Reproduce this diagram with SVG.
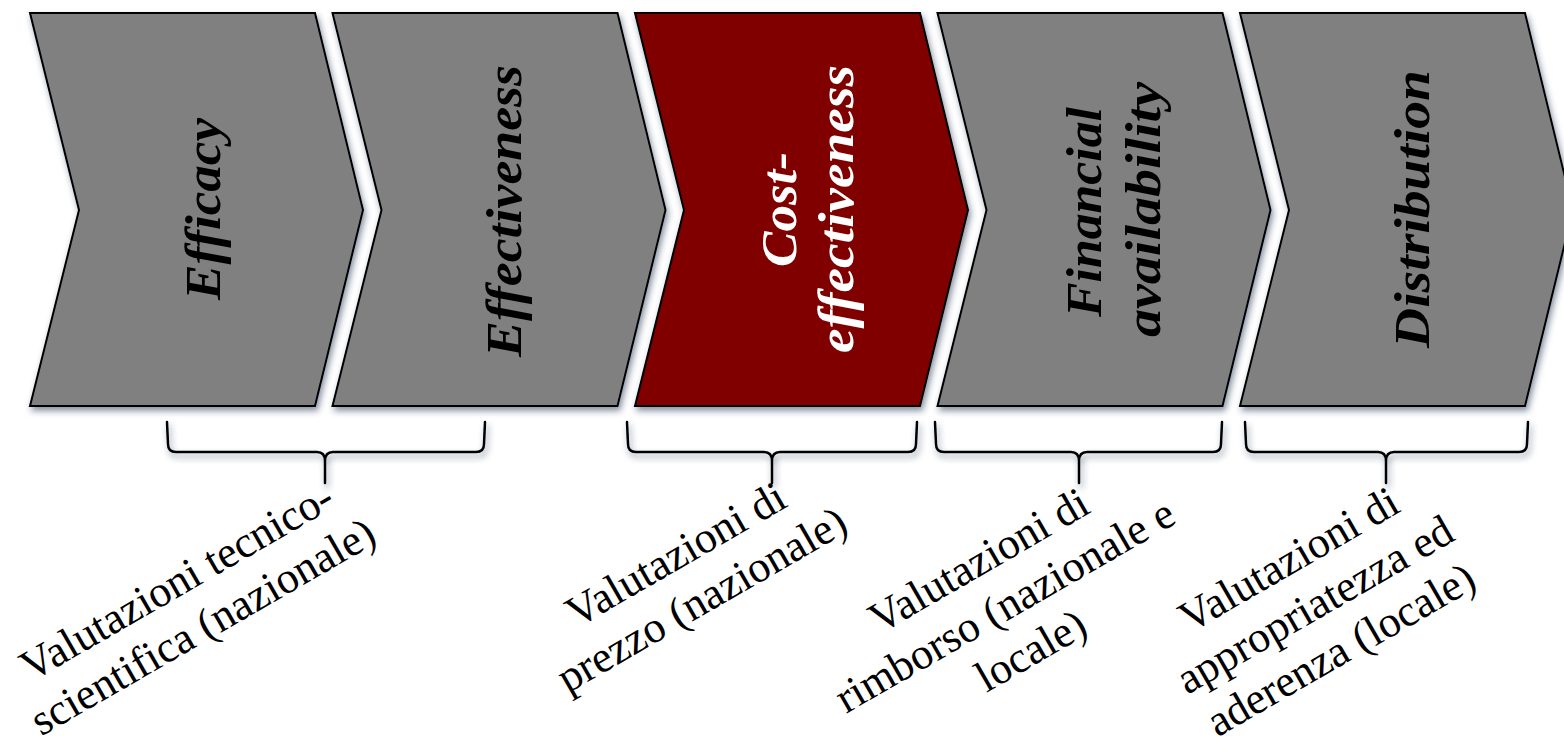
<svg xmlns="http://www.w3.org/2000/svg" width="1564" height="739" viewBox="0 0 1564 739">
<defs>
<filter id="sh" x="-10%" y="-10%" width="130%" height="130%">
<feDropShadow dx="2" dy="4" stdDeviation="3" flood-color="#2a3a55" flood-opacity="0.55"/>
</filter>
<style>
.chev{stroke:#000;stroke-width:2;stroke-linejoin:miter;filter:url(#sh)}
.gray{fill:#808080}
.red{fill:#800000}
.title{font-family:"Liberation Serif","Times New Roman",serif;font-style:italic;font-weight:bold;font-size:50px;text-anchor:middle}
.dark{fill:#000}
.light{fill:#fff}
.brace{fill:none;stroke:#000;stroke-width:2.5;stroke-linecap:round;stroke-linejoin:round;filter:url(#sh)}
.lbl{font-family:"Liberation Serif","Times New Roman",serif;font-size:44px;text-anchor:middle;fill:#000}
</style>
</defs>
<rect width="1564" height="739" fill="#ffffff"/>

<g id="node-efficacy">
<polygon class="chev gray" points="30,13 315,13 363,210 315,406 30,406 79,210"/>
<text class="title dark" transform="translate(220,209) rotate(-90)" textLength="182" lengthAdjust="spacingAndGlyphs">Efficacy</text>
</g>
<g id="node-effectiveness">
<polygon class="chev gray" points="332.5,13 617.5,13 665.5,210 617.5,406 332.5,406 381.5,210"/>
<text class="title dark" transform="translate(521,211) rotate(-90)" textLength="292" lengthAdjust="spacingAndGlyphs">Effectiveness</text>
</g>
<g id="node-cost-effectiveness">
<polygon class="chev red" points="635,13 920,13 968,210 920,406 635,406 684,210"/>
<text class="title light" transform="translate(796,209.5) rotate(-90)" textLength="115" lengthAdjust="spacingAndGlyphs">Cost-</text>
<text class="title light" transform="translate(853,209) rotate(-90)" textLength="288" lengthAdjust="spacingAndGlyphs">effectiveness</text>
</g>
<g id="node-financial-availability">
<polygon class="chev gray" points="937.5,13 1222.5,13 1270.5,210 1222.5,406 937.5,406 986.5,210"/>
<text class="title dark" transform="translate(1101,212) rotate(-90)" textLength="210" lengthAdjust="spacingAndGlyphs">Financial</text>
<text class="title dark" transform="translate(1160,209.5) rotate(-90)" textLength="255" lengthAdjust="spacingAndGlyphs">availability</text>
</g>
<g id="node-distribution">
<polygon class="chev gray" points="1240,13 1525,13 1573,210 1525,406 1240,406 1289,210"/>
<text class="title dark" transform="translate(1429,209) rotate(-90)" textLength="278" lengthAdjust="spacingAndGlyphs">Distribution</text>
</g>

<g id="connectors">
<path class="brace" d="M167,422 L168,444 Q168,452 176,452 L317,452 Q325,452 325,461 L325,483 M325,461 Q325,452 333,452 L476,452 Q484,452 484,444 L485,422"/>
<path class="brace" d="M627,422 L628,444 Q628,452 636,452 L764,452 Q772,452 772,461 L772,483 M772,461 Q772,452 780,452 L908,452 Q916,452 916,444 L917,422"/>
<path class="brace" d="M935,422 L936,444 Q936,452 944,452 L1071,452 Q1079,452 1079,461 L1079,483 M1079,461 Q1079,452 1087,452 L1213,452 Q1221,452 1221,444 L1222,422"/>
<path class="brace" d="M1245,422 L1246,444 Q1246,452 1254,452 L1378,452 Q1386,452 1386,461 L1386,483 M1386,461 Q1386,452 1394,452 L1519,452 Q1527,452 1527,444 L1528,422"/>
</g>

<g id="label-tecnico-scientifica" transform="translate(184,594) rotate(-30)">
<text class="lbl" x="0" y="0">Valutazioni tecnico-</text>
<text class="lbl" x="0" y="52">scientifica (nazionale)</text>
</g>
<g id="label-prezzo" transform="translate(683,567) rotate(-30)">
<text class="lbl" x="0" y="0">Valutazioni di</text>
<text class="lbl" x="0" y="52">prezzo (nazionale)</text>
</g>
<g id="label-rimborso" transform="translate(986,573) rotate(-30)">
<text class="lbl" x="0" y="0">Valutazioni di</text>
<text class="lbl" x="0" y="52">rimborso (nazionale e</text>
<text class="lbl" x="0" y="104">locale)</text>
</g>
<g id="label-appropriatezza" transform="translate(1296,572) rotate(-30)">
<text class="lbl" x="0" y="0">Valutazioni di</text>
<text class="lbl" x="0" y="52">appropriatezza ed</text>
<text class="lbl" x="0" y="104">aderenza (locale)</text>
</g>
</svg>
